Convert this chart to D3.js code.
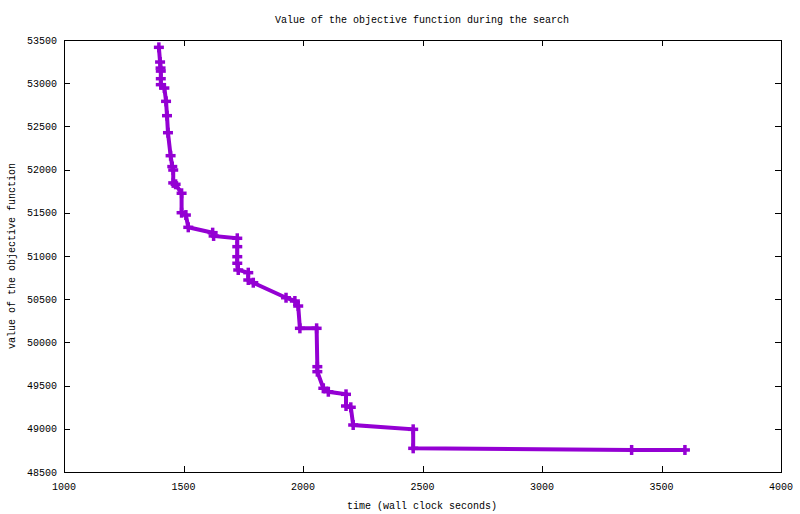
<!DOCTYPE html>
<html>
<head>
<meta charset="utf-8">
<script src="https://cdn.jsdelivr.net/npm/d3@7"></script>
<style>
  html, body { margin: 0; padding: 0; background: #fff; }
  svg { display: block; }
  text { font-family: "Liberation Mono", "DejaVu Sans Mono", monospace; font-size: 10px; fill: #000; }
</style>
</head>
<body>
<svg id="chart" width="800" height="514"></svg>
<script>
const title = "Value of the objective function during the search";
const xLabel = "time (wall clock seconds)";
const yLabel = "value of the objective function";

const times = [1397, 1402, 1404, 1405, 1405, 1405, 1420, 1427, 1431, 1435, 1446, 1453, 1457, 1457, 1467, 1492, 1492, 1510, 1520, 1622, 1626, 1725, 1725, 1725, 1725, 1729, 1771, 1771, 1792, 1929, 1966, 1980, 1987, 2057, 2060, 2060, 2085, 2106, 2180, 2180, 2200, 2210, 2461, 2461, 3375, 3598];
const values = [53415, 53245, 53175, 53140, 53052, 52983, 52944, 52790, 52624, 52427, 52161, 52035, 51995, 51846, 51830, 51726, 51501, 51474, 51332, 51270, 51232, 51205, 51108, 50992, 50916, 50838, 50807, 50722, 50691, 50517, 50479, 50421, 50163, 50163, 49719, 49661, 49469, 49429, 49399, 49264, 49249, 49044, 48994, 48774, 48755, 48755];

const xTicks = [1000, 1500, 2000, 2500, 3000, 3500, 4000];
const yTicks = [48500, 49000, 49500, 50000, 50500, 51000, 51500, 52000, 52500, 53000, 53500];

(function () {
const svg = d3.select("#chart");
const pl = 64, pr = 781, pt = 40, pb = 472;

const x = d3.scaleLinear().domain([1000, 4000]).range([pl, pr]);
const y = d3.scaleLinear().domain([48500, 53500]).range([pb, pt]);

const tickLen = 6;
svg.append("rect")
  .attr("x", pl + 0.5).attr("y", pt + 0.5)
  .attr("width", pr - pl).attr("height", pb - pt)
  .attr("fill", "none").attr("stroke", "#000").attr("stroke-width", 1);

const gx = svg.append("g");
xTicks.forEach(t => {
  const px = Math.round(x(t)) + 0.5;
  gx.append("line").attr("x1", px).attr("x2", px).attr("y1", pb).attr("y2", pb - tickLen).attr("stroke", "#000");
  gx.append("line").attr("x1", px).attr("x2", px).attr("y1", pt).attr("y2", pt + tickLen).attr("stroke", "#000");
  gx.append("text").attr("x", x(t)).attr("y", 490).attr("text-anchor", "middle").text(t);
});

const gy = svg.append("g");
yTicks.forEach(t => {
  const py = Math.round(y(t)) + 0.5;
  gy.append("line").attr("x1", pl).attr("x2", pl + tickLen).attr("y1", py).attr("y2", py).attr("stroke", "#000");
  gy.append("line").attr("x1", pr).attr("x2", pr - tickLen).attr("y1", py).attr("y2", py).attr("stroke", "#000");
  gy.append("text").attr("x", 57).attr("y", y(t) + 3.5).attr("text-anchor", "end").text(t);
});

svg.append("text").attr("x", 422).attr("y", 23).attr("text-anchor", "middle").text(title);
svg.append("text").attr("x", 422).attr("y", 509).attr("text-anchor", "middle").text(xLabel);
svg.append("text").attr("transform", "translate(15,256) rotate(-90)").attr("text-anchor", "middle").text(yLabel);

const data = times.map((t, i) => ({ t, v: values[i] }));
const color = "#9400D3";

svg.append("path")
  .datum(data)
  .attr("d", d3.line().x(d => x(d.t)).y(d => y(d.v)))
  .attr("fill", "none")
  .attr("stroke", color)
  .attr("stroke-width", 4)
  .attr("stroke-linejoin", "miter");

const ms = 5;
const pts = svg.append("g").attr("stroke", color).attr("stroke-width", 3.5);
data.forEach(d => {
  const cx = x(d.t), cy = y(d.v);
  pts.append("line").attr("x1", cx - ms).attr("x2", cx + ms).attr("y1", cy).attr("y2", cy);
  pts.append("line").attr("x1", cx).attr("x2", cx).attr("y1", cy - ms).attr("y2", cy + ms);
});
})();
</script>
</body>
</html>
